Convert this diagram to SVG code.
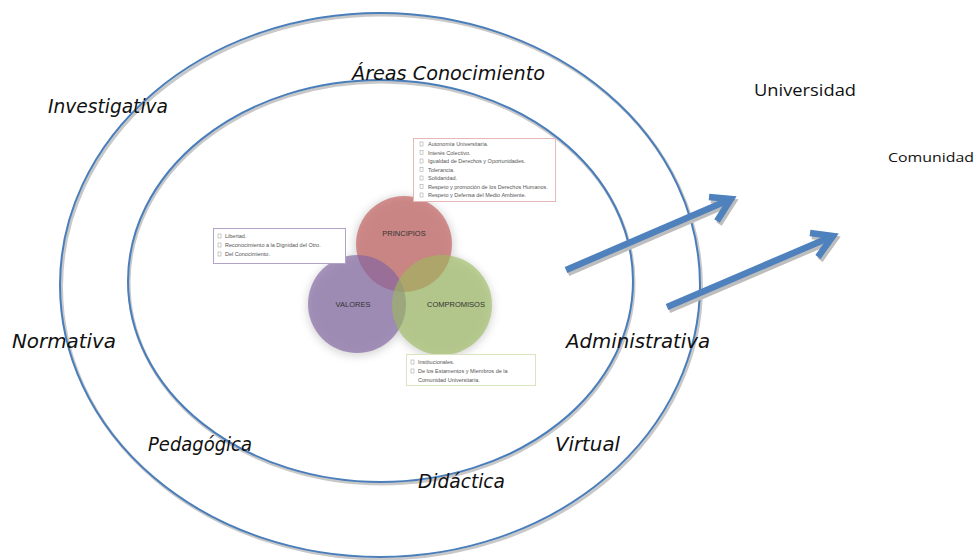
<svg xmlns="http://www.w3.org/2000/svg" width="978" height="560" viewBox="0 0 978 560">
<style>
.ring{fill:none;stroke:#4a7ebb;stroke-width:2}
.ringsh{fill:none;stroke:#c8c8c8;stroke-width:3}
.hand{font-family:"DejaVu Sans","Noto Sans",sans-serif;font-style:italic;font-size:19px;fill:#111}
.lbl{font-family:"Open Sans","Noto Sans",sans-serif;fill:#111}
.venn{font-family:"Liberation Sans",Arial,sans-serif;font-size:7.5px;fill:#333}
.small{font-family:"Liberation Sans",Arial,sans-serif;font-size:5.5px;fill:#555}
.bul{fill:none;stroke:#999;stroke-width:0.5}
.arr{fill:none;stroke:#4f81bd;stroke-width:6.5;stroke-linecap:butt;stroke-linejoin:miter}
.arrsh{fill:none;stroke:#bdbdbd;stroke-width:6.5}
</style>
<defs>
<filter id="glow" x="-30%" y="-30%" width="160%" height="160%">
<feGaussianBlur stdDeviation="4"/>
</filter>
</defs>
<rect width="978" height="560" fill="#fff"/>

<g id="outer-ring">
<ellipse class="ringsh" cx="381.5" cy="287" rx="320" ry="272"/>
<ellipse class="ring" cx="380" cy="285" rx="320" ry="272"/>
</g>
<g id="inner-ring">
<ellipse class="ringsh" cx="381.5" cy="283" rx="252.5" ry="201"/>
<ellipse class="ring" cx="380.5" cy="281" rx="252.5" ry="201"/>
</g>

<g id="venn-shadow" filter="url(#glow)" opacity="0.35">
<circle cx="404" cy="246" r="50" fill="#888"/>
<circle cx="357" cy="306" r="50" fill="#888"/>
<circle cx="442" cy="307" r="51" fill="#888"/>
</g>
<g id="principios">
<circle cx="404" cy="244" r="48" fill="#c0504d" fill-opacity="0.6"/>
<text class="venn" x="404" y="236" text-anchor="middle">PRINCIPIOS</text>
</g>
<g id="valores">
<circle cx="357" cy="304" r="49" fill="#8064a2" fill-opacity="0.65"/>
<text class="venn" x="353" y="307" text-anchor="middle">VALORES</text>
</g>
<g id="compromisos">
<circle cx="442" cy="305" r="50" fill="#9bbb59" fill-opacity="0.6"/>
<text class="venn" x="456" y="307" text-anchor="middle">COMPROMISOS</text>
</g>

<g id="box-principios">
<rect x="413.5" y="138.5" width="142" height="63" fill="#fff" stroke="#e6b9b8" stroke-width="1"/>
<g class="small">
<text x="428" y="146">Autonomía Universitaria.</text>
<text x="428" y="154.5">Interés Colectivo.</text>
<text x="428" y="163">Igualdad de Derechos y Oportunidades.</text>
<text x="428" y="171.5">Tolerancia.</text>
<text x="428" y="180">Solidaridad.</text>
<text x="428" y="188.5">Respeto y promoción de los Derechos Humanos.</text>
<text x="428" y="197">Respeto y Defensa del Medio Ambiente.</text>
</g>
<g class="bul">
<rect x="420" y="142" width="3" height="4"/>
<rect x="420" y="150.5" width="3" height="4"/>
<rect x="420" y="159" width="3" height="4"/>
<rect x="420" y="167.5" width="3" height="4"/>
<rect x="420" y="176" width="3" height="4"/>
<rect x="420" y="184.5" width="3" height="4"/>
<rect x="420" y="193" width="3" height="4"/>
</g>
</g>

<g id="box-valores">
<rect x="213.5" y="228.5" width="132" height="35" fill="#fff" stroke="#b3a2c7" stroke-width="1"/>
<g class="small">
<text x="225" y="238">Libertad.</text>
<text x="225" y="247">Reconocimiento a la Dignidad del Otro.</text>
<text x="225" y="256">Del Conocimiento.</text>
</g>
<g class="bul">
<rect x="218" y="234" width="3" height="4"/>
<rect x="218" y="243" width="3" height="4"/>
<rect x="218" y="252" width="3" height="4"/>
</g>
</g>

<g id="box-compromisos">
<rect x="406.5" y="354.5" width="129" height="31" fill="#fff" stroke="#d7e4bd" stroke-width="1"/>
<g class="small">
<text x="418" y="364">Institucionales.</text>
<text x="418" y="373">De los Estamentos y Miembros de la</text>
<text x="418" y="382">Comunidad Universitaria.</text>
</g>
<g class="bul">
<rect x="411" y="360" width="3" height="4"/>
<rect x="411" y="369" width="3" height="4"/>
</g>
</g>

<g id="connectors">
<g transform="translate(2,3)">
<path class="arrsh" d="M566 270 L731 199 M709 197 L731 199 L717 221"/>
<path class="arrsh" d="M667 307 L833 236 M810 233 L833 236 L818 257"/>
</g>
<path class="arr" d="M566 270 L731 199"/>
<path class="arr" d="M709 197 L731 199 L717 221"/>
<path class="arr" d="M667 307 L833 236"/>
<path class="arr" d="M810 233 L833 236 L818 257"/>
</g>

<g id="labels">
<text class="hand" x="48" y="113" textLength="120" lengthAdjust="spacingAndGlyphs">Investigativa</text>
<text class="hand" x="352" y="80" textLength="193" lengthAdjust="spacingAndGlyphs">Áreas Conocimiento</text>
<text class="hand" x="12" y="348" textLength="104" lengthAdjust="spacingAndGlyphs">Normativa</text>
<text class="hand" x="566" y="348" textLength="144" lengthAdjust="spacingAndGlyphs">Administrativa</text>
<text class="hand" x="148" y="451" textLength="104" lengthAdjust="spacingAndGlyphs">Pedagógica</text>
<text class="hand" x="555" y="451" textLength="65" lengthAdjust="spacingAndGlyphs">Virtual</text>
<text class="hand" x="418" y="488" textLength="87" lengthAdjust="spacingAndGlyphs">Didáctica</text>
<text class="lbl" x="754" y="96" font-size="16.5" textLength="102" lengthAdjust="spacingAndGlyphs">Universidad</text>
<text class="lbl" x="888" y="162" font-size="13.5" textLength="86" lengthAdjust="spacingAndGlyphs">Comunidad</text>
</g>
</svg>
